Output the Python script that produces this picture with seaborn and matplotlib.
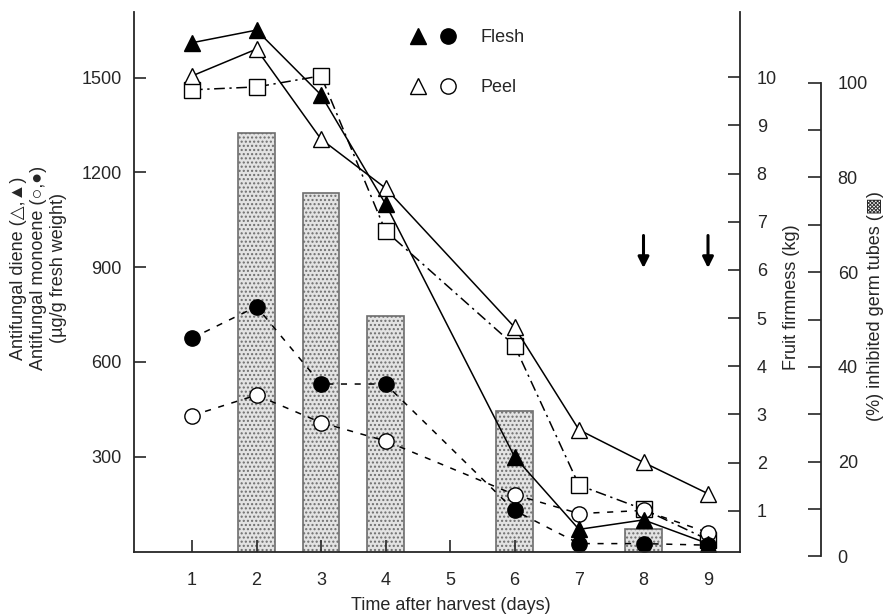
import matplotlib
matplotlib.use("Agg")
import matplotlib.pyplot as plt
import seaborn as sns
from matplotlib.legend_handler import HandlerTuple
from matplotlib.lines import Line2D

# ---------------- data ----------------
days = [1, 2, 3, 4, 6, 7, 8, 9]
diene_flesh = [1610, 1650, 1445, 1100, 300, 70, 100, 25]      # filled triangles
diene_peel = [1505, 1590, 1305, 1150, 710, 385, 282, 183]      # open triangles
monoene_flesh = [675, 775, 530, 530, 130, 25, 25, 20]          # filled circles
monoene_peel = [430, 495, 408, 350, 180, 120, 130, 60]         # open circles
firmness_kg = [9.74, 9.80, 10.03, 6.81, 4.43, 1.53, 1.03, 0.40]  # open squares

bar_days = [2, 3, 4, 6, 8]
inhibited_pct = [89.4, 76.7, 50.7, 30.7, 5.7]

arrow_days = [8, 9]

x_ticks = [1, 2, 3, 4, 5, 6, 7, 8, 9]
left_ticks = [300, 600, 900, 1200, 1500]
firm_ticks = [1, 2, 3, 4, 5, 6, 7, 8, 9, 10]
pct_ticks = [0, 10, 20, 30, 40, 50, 60, 70, 80, 90, 100]
pct_labels = ["0", "", "20", "", "40", "", "60", "", "80", "", "100"]

# ---------------- style ----------------
sns.set_style("white")
plt.rcParams["font.family"] = ["Liberation Sans", "DejaVu Sans"]
plt.rcParams["font.size"] = 13

W, H = 890, 614
fig = plt.figure(figsize=(W / 100, H / 100), dpi=100)

def fx(px):
    return px / W

def fy(py):
    return 1 - py / H

ax_l, ax_r, ax_b, ax_t = 134, 740, 551.5, 12
ax = fig.add_axes([fx(ax_l), fy(ax_b), fx(ax_r - ax_l), (ax_b - ax_t) / H])
ax2 = ax.twinx()
pct_b = 556.3
ax3 = fig.add_axes([fx(ax_l), fy(pct_b), fx(ax_r - ax_l), (pct_b - ax_t) / H], sharex=ax)

ax3.set_zorder(0)
ax2.set_zorder(1)
ax.set_zorder(2)
for a in (ax, ax2, ax3):
    a.patch.set_visible(False)

# ---------------- bars (percent axis) ----------------
sns.barplot(x=bar_days, y=inhibited_pct, ax=ax3, native_scale=True, width=0.57,
            color="#e3e3e3", saturation=1, edgecolor="#6e6e6e", linewidth=1.2,
            hatch="....", errorbar=None)
for p in ax3.patches:
    p.set_clip_path(ax.patch)

# ---------------- lines ----------------
lw = 1.1
ms = 11
sns.lineplot(x=days, y=firmness_kg, ax=ax2, color="black", lw=lw,
             linestyle=(0, (7, 3, 1.5, 3)), marker="s", markersize=ms,
             markerfacecolor="white", markeredgecolor="black", markeredgewidth=1.0)

sns.lineplot(x=days, y=monoene_peel, ax=ax, color="black", lw=lw,
             linestyle=(0, (4, 5)), marker="o", markersize=ms,
             markerfacecolor="white", markeredgecolor="black", markeredgewidth=1.0)
sns.lineplot(x=days, y=monoene_flesh, ax=ax, color="black", lw=lw,
             linestyle=(0, (4, 5)), marker="o", markersize=ms,
             markerfacecolor="black", markeredgecolor="black", markeredgewidth=1.0)
sns.lineplot(x=days, y=diene_peel, ax=ax, color="black", lw=lw,
             linestyle="-", marker="^", markersize=ms,
             markerfacecolor="white", markeredgecolor="black", markeredgewidth=1.0)
sns.lineplot(x=days, y=diene_flesh, ax=ax, color="black", lw=lw,
             linestyle="-", marker="^", markersize=ms,
             markerfacecolor="black", markeredgecolor="black", markeredgewidth=1.0)

# arrows
for d in arrow_days:
    ax.annotate("", xy=(d, 897), xytext=(d, 1000),
                arrowprops=dict(arrowstyle="-|>", color="black", lw=2.2,
                                mutation_scale=16, shrinkA=0, shrinkB=0))

# ---------------- axes / scales ----------------
x_per_px = 1 / 64.5
x0 = 1 - (192 - ax_l) * x_per_px
x1 = 1 + (ax_r - 192) * x_per_px
ax.set_xlim(x0, x1)

left_px_per_unit = 0.316
ax.set_ylim(0, (ax_b - ax_t) / left_px_per_unit)

firm_zero = 558.9
firm_px = 48.16
ax2.set_ylim((firm_zero - ax_b) / firm_px, (firm_zero - ax_t) / firm_px)

pct_px = 4.736
ax3.set_ylim(0, (pct_b - ax_t) / pct_px)

for a in (ax, ax2, ax3):
    a.set_xlabel("")
    a.set_ylabel("")

spine_lw = 1.3
ax.spines["top"].set_visible(False)
ax.spines["right"].set_visible(False)
ax.spines["left"].set_linewidth(spine_lw)
ax.spines["bottom"].set_linewidth(spine_lw)

for s in ("top", "left", "bottom"):
    ax2.spines[s].set_visible(False)
ax2.spines["right"].set_linewidth(spine_lw)

for s in ("top", "left", "bottom"):
    ax3.spines[s].set_visible(False)
ax3.spines["right"].set_position(("axes", (821 - ax_l) / (ax_r - ax_l)))
ax3.spines["right"].set_bounds(0, 100)
ax3.spines["right"].set_linewidth(spine_lw)

tick_len = 8.6
ax.set_xticks(x_ticks)
ax.set_xticklabels([str(t) for t in x_ticks])
ax.tick_params(axis="x", direction="in", length=tick_len, width=1.2, pad=15,
               labelsize=13, bottom=True, top=False)
ax.set_yticks(left_ticks)
ax.set_yticklabels([str(t) for t in left_ticks])
ax.tick_params(axis="y", direction="in", length=tick_len, width=1.2, pad=9,
               labelsize=13, left=True, right=False)

ax2.set_yticks(firm_ticks)
ax2.set_yticklabels([str(t) for t in firm_ticks])
ax2.tick_params(axis="y", direction="in", length=tick_len, width=1.2, pad=12,
                labelsize=13, right=True, left=False, labelright=True, labelleft=False)

ax3.yaxis.tick_right()
ax3.set_yticks(pct_ticks)
ax3.set_yticklabels(pct_labels)
ax3.tick_params(axis="y", direction="in", length=9.4, width=1.2, pad=12,
                labelsize=13, right=True, left=False)
ax3.tick_params(axis="x", bottom=False, labelbottom=False, top=False)

ax.set_xlim(x0, x1)

# ---------------- labels ----------------
fig.text(fx(38.5), fy(268),
         "Antifungal diene (\u25B3,\u25B2)\nAntifungal monoene (\u25CB,\u25CF)\n(\u00B5g/g fresh weight)",
         rotation=90, ha="center", va="center", multialignment="center",
         linespacing=1.25, fontsize=13)
fig.text(fx(451), fy(605), "Time after harvest (days)", ha="center", va="center", fontsize=13)
fig.text(fx(791), fy(297), "Fruit firmness (kg)", rotation=90, ha="center", va="center", fontsize=13)
fig.text(fx(876), fy(306), "(%) inhibited germ tubes (\u25A9)", rotation=90,
         ha="center", va="center", fontsize=13)

# ---------------- legend ----------------
tri_f = Line2D([], [], ls="None", marker="^", ms=ms, mfc="black", mec="black")
cir_f = Line2D([], [], ls="None", marker="o", ms=ms, mfc="black", mec="black")
tri_p = Line2D([], [], ls="None", marker="^", ms=ms, mfc="white", mec="black")
cir_p = Line2D([], [], ls="None", marker="o", ms=ms, mfc="white", mec="black")
fs_px = 13 * 100 / 72
fig.legend(handles=[(tri_f, cir_f), (tri_p, cir_p)], labels=["Flesh", "Peel"],
           handler_map={tuple: HandlerTuple(ndivide=None, pad=0)},
           loc="upper left", bbox_to_anchor=(fx(403), fy(29)),
           frameon=False, fontsize=13, handlelength=60 / fs_px,
           handletextpad=17 / fs_px, labelspacing=1.85, borderpad=0, borderaxespad=0)

fig.savefig("out.png", dpi=100, facecolor="white")
